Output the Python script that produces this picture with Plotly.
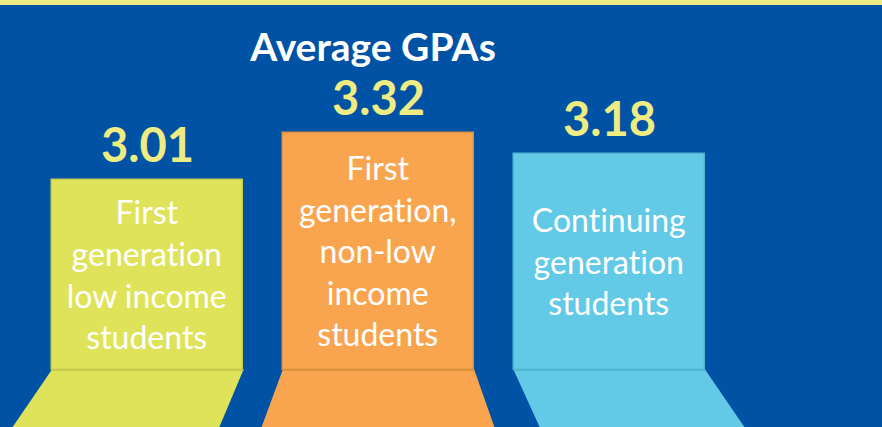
import plotly.graph_objects as go

categories = ["First generation low income students",
              "First generation, non-low income students",
              "Continuing generation students"]
bar_labels = ["First<br>generation<br>low income<br>students",
              "First<br>generation,<br>non-low<br>income<br>students",
              "Continuing<br>generation<br>students"]
gpa = [3.01, 3.32, 3.18]
value_labels = ["3.01", "3.32", "3.18"]
colors = ["#DFE35A", "#F9A54F", "#62CAE7"]
edge_colors = ["#C9CD4E", "#E0913F", "#52B5D2"]

BG = "#0053A4"
STRIP = "#EEEC82"
FONT = "Lato"

x_pos = list(range(len(categories)))
base = 1.77
bar_w = 0.83
ymin, ymax = 1.397, 4.156
# perspective skew of the floor pieces (in category units)
skew_left = [-39 / 231, -21 / 231, 26 / 231]
skew_right = [-24 / 231, 20 / 231, 39 / 231]

fig = go.Figure()

# floor pieces (perspective trapezoids) derived from bar positions
for i, xc in enumerate(x_pos):
    xl, xr = xc - bar_w / 2, xc + bar_w / 2
    fig.add_trace(go.Scatter(
        x=[xl, xr, xr + skew_right[i], xl + skew_left[i], xl],
        y=[base, base, ymin, ymin, base],
        mode="lines", fill="toself", fillcolor=colors[i],
        line=dict(width=0, color=colors[i]), hoverinfo="skip",
        showlegend=False))

fig.add_trace(go.Bar(
    x=x_pos, y=[v - base for v in gpa], base=base, width=bar_w,
    marker=dict(color=colors, line=dict(color=edge_colors, width=1.5)),
    text=bar_labels, textposition="inside", insidetextanchor="middle",
    textangle=0, constraintext="none",
    textfont=dict(family=FONT, size=32, color="white"),
    hovertext=categories, hoverinfo="text+y", showlegend=False))

# dark seam between bar and floor
for i, xc in enumerate(x_pos):
    fig.add_shape(type="line", x0=xc - bar_w / 2, x1=xc + bar_w / 2,
                  y0=base, y1=base, line=dict(color=edge_colors[i], width=2))

for xc, v, lab in zip(x_pos, gpa, value_labels):
    fig.add_annotation(x=xc, y=v, text="<b>" + lab + "</b>", showarrow=False,
                       yanchor="bottom", yshift=6,
                       font=dict(family=FONT, size=47, color=STRIP))

fig.update_layout(
    width=882, height=427,
    margin=dict(l=0, r=0, t=5, b=0),
    paper_bgcolor=STRIP, plot_bgcolor=BG,
    title=dict(text="<b>Average GPAs</b>", x=373 / 882, xanchor="center",
               y=1 - 47 / 427, yanchor="middle",
               font=dict(family=FONT, size=39, color="white")),
    xaxis=dict(range=[-0.6385, 3.1797], visible=False, fixedrange=True),
    yaxis=dict(range=[ymin, ymax], visible=False, fixedrange=True),
    bargap=0, showlegend=False,
)

fig.write_html(
    "out.html",
    config={"displayModeBar": False},
    post_script=(
        "document.body.style.margin='0';"
        "document.body.style.overflow='hidden';"
        "var s=document.createElement('style');"
        "s.textContent='svg text, svg tspan{font-variant-ligatures:none !important;"
        "font-feature-settings:\"liga\" 0, \"clig\" 0, \"calt\" 0, \"dlig\" 0 !important;}';"
        "document.head.appendChild(s);"
    ))
